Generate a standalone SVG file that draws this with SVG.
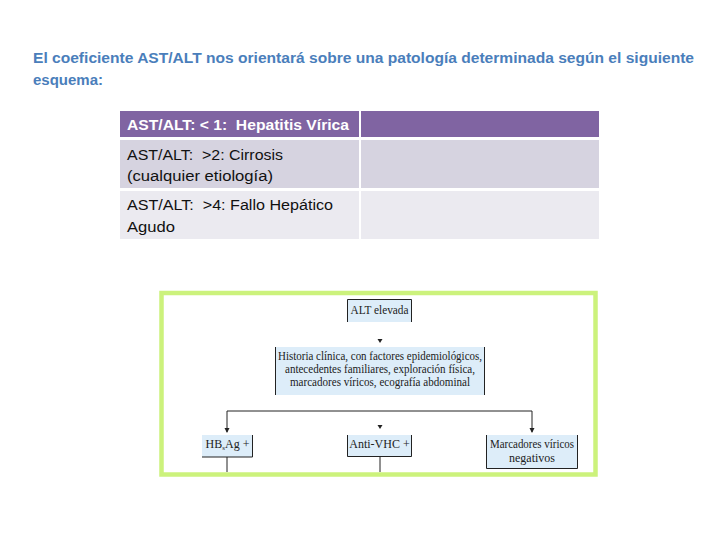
<svg xmlns="http://www.w3.org/2000/svg" width="720" height="540" viewBox="0 0 720 540">
<style>
.title{font-family:"Liberation Sans",Arial,sans-serif;font-weight:bold;font-size:14px;fill:#4A7EBB}
.th{font-family:"Liberation Sans",Arial,sans-serif;font-weight:bold;font-size:14px;fill:#ffffff;white-space:pre}
.td{font-family:"Liberation Sans",Arial,sans-serif;font-size:14px;fill:#111111;white-space:pre}
.box{fill:#DDEDF9}
.bl{stroke:#222222;stroke-width:1;fill:none}
.t{font-family:"Liberation Serif","Times New Roman",serif;font-size:12px;fill:#222222;text-anchor:middle}
.con{stroke:#222222;stroke-width:1;fill:none}
.ah{fill:#222222}
</style>
<rect x="0" y="0" width="720" height="540" fill="#ffffff"/>
<g id="title">
<text class="title" x="33" y="63" textLength="661" lengthAdjust="spacingAndGlyphs">El coeficiente AST/ALT nos orientará sobre una patología determinada según el siguiente</text>
<text class="title" x="33" y="85" textLength="70" lengthAdjust="spacingAndGlyphs">esquema:</text>
</g>
<g id="table">
<rect x="120" y="111" width="239" height="26" fill="#8064A2"/>
<rect x="361" y="111" width="238" height="26" fill="#8064A2"/>
<rect x="120" y="140" width="239" height="48" fill="#D6D3E0"/>
<rect x="361" y="140" width="238" height="48" fill="#D6D3E0"/>
<rect x="120" y="191" width="239" height="48" fill="#EBEAF0"/>
<rect x="361" y="191" width="238" height="48" fill="#EBEAF0"/>
<text class="th" xml:space="preserve" x="127" y="130" textLength="222" lengthAdjust="spacingAndGlyphs">AST/ALT: &lt; 1:  Hepatitis Vírica</text>
<text class="td" xml:space="preserve" x="127" y="160" textLength="156" lengthAdjust="spacingAndGlyphs">AST/ALT:  &gt;2: Cirrosis</text>
<text class="td" x="127" y="181" textLength="146" lengthAdjust="spacingAndGlyphs">(cualquier etiología)</text>
<text class="td" xml:space="preserve" x="127" y="210" textLength="206" lengthAdjust="spacingAndGlyphs">AST/ALT:  &gt;4: Fallo Hepático</text>
<text class="td" x="127" y="232" textLength="48" lengthAdjust="spacingAndGlyphs">Agudo</text>
</g>
<rect id="frame" x="161.5" y="293" width="434" height="181.5" fill="none" stroke="#CCF27C" stroke-width="4.5"/>
<g id="connectors">
<path class="ah" d="M377.5,339 L382.5,339 L380,343 Z"/>
<path class="con" d="M227,432 V411 H532 V432"/>
<path class="ah" d="M224.5,428 L229.5,428 L227,433 Z"/>
<path class="ah" d="M529.5,428 L534.5,428 L532,433 Z"/>
<path class="ah" d="M377.5,425 L382.5,425 L380,429 Z"/>
<path class="con" d="M227,457 V472"/>
<path class="con" d="M380,457 V472"/>
</g>
<g id="n-alt">
<rect class="box" x="347" y="299" width="65" height="23"/>
<path class="bl" d="M347.5,322 V299.5 H411.5 V322"/>
<text class="t" x="379.5" y="314" textLength="58" lengthAdjust="spacingAndGlyphs">ALT elevada</text>
</g>
<g id="n-historia">
<rect class="box" x="275" y="347" width="210" height="48"/>
<path class="bl" d="M275.5,347 V395 M484.5,347 V395"/>
<text class="t" x="380" y="360" textLength="204" lengthAdjust="spacingAndGlyphs">Historia clínica, con factores epidemiológicos,</text>
<text class="t" x="380" y="373" textLength="190" lengthAdjust="spacingAndGlyphs">antecedentes familiares, exploración física,</text>
<text class="t" x="380" y="386" textLength="180" lengthAdjust="spacingAndGlyphs">marcadores víricos, ecografía abdominal</text>
</g>
<g id="n-hbsag">
<rect class="box" x="202" y="435" width="51" height="22"/>
<path class="bl" d="M252.5,435 V457 H202"/>
<text class="t" x="227.5" y="448">HB<tspan font-size="7" dy="2">s</tspan><tspan dy="-2">Ag +</tspan></text>
</g>
<g id="n-vhc">
<rect class="box" x="347" y="435" width="65" height="22"/>
<path class="bl" d="M347.5,435 V456.5 H411.5 V435"/>
<text class="t" x="379.5" y="448">Anti-VHC +</text>
</g>
<g id="n-neg">
<rect class="box" x="486" y="435" width="92" height="34"/>
<path class="bl" d="M486.5,435 V468.5 H577.5 V435"/>
<text class="t" x="532" y="448" textLength="84" lengthAdjust="spacingAndGlyphs">Marcadores víricos</text>
<text class="t" x="532" y="462">negativos</text>
</g>
</svg>
